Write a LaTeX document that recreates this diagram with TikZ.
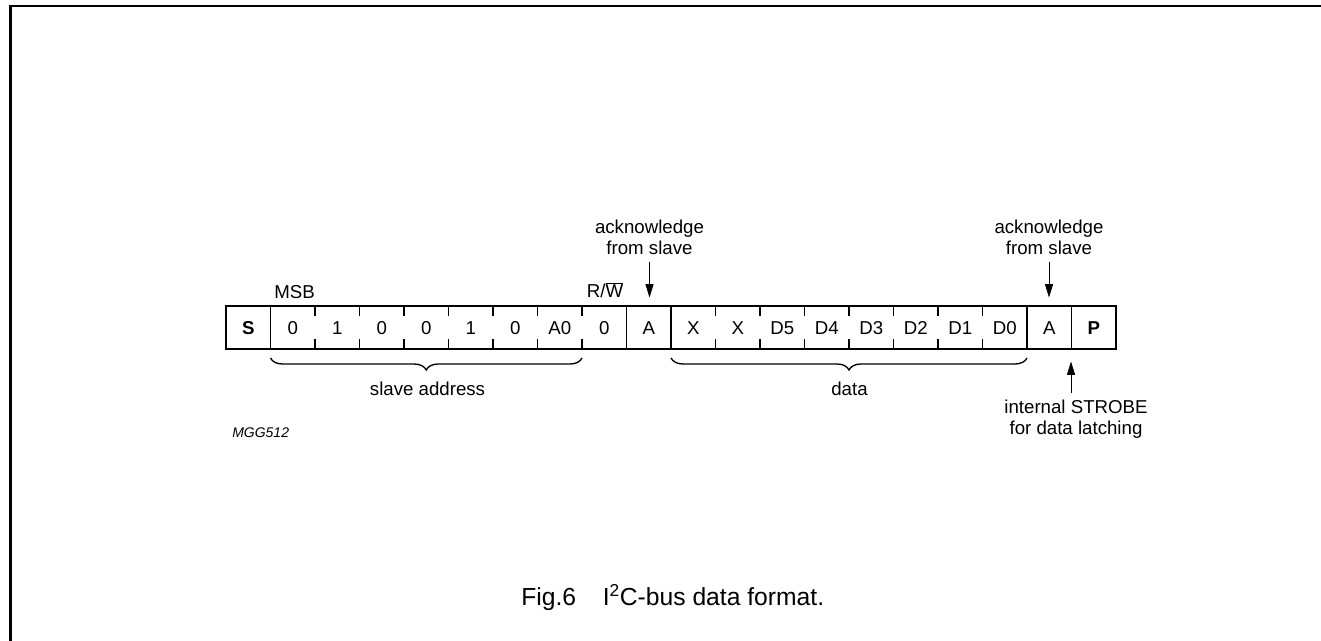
\documentclass[tikz,border=0pt]{standalone}
\usepackage{fontspec}
\setmainfont{Liberation Sans}
\usetikzlibrary{arrows.meta,decorations.pathreplacing}
\tikzset{
  cell/.style={minimum width=33.375pt,minimum height=32.25pt,inner sep=0pt,outer sep=0pt,text height=10pt,text depth=0pt,font=\fontsize{14pt}{16pt}\selectfont},
  lbl/.style={inner sep=0pt,align=center,font=\fontsize{14pt}{15.8pt}\selectfont},
  boxline/.style={line width=1pt},
  arr/.style={line width=0.45pt,-{Triangle[length=10pt,width=6pt]}},
  brc/.style={line width=1pt,decorate,decoration={brace,mirror,amplitude=9pt}},
  frame/.style={line width=1.6pt}
}
\begin{document}
\begin{tikzpicture}[x=0.75pt,y=-0.75pt]
\useasboundingbox (0,0) rectangle (1321,641);
% frame
\draw[frame] (10.5,641) -- (10.5,6.3) -- (1321,6.3);
% cells
\foreach \t [count=\i] in {{\bfseries S},0,1,0,0,1,0,A0,0,A,X,X,D5,D4,D3,D2,D1,D0,A,{\bfseries P}}
  \node[cell] (c\i) at ({226+44.5*(\i-0.5)},327.5) {\t};
\draw[boxline] (c1.north west) rectangle (c20.south east);
\foreach \i in {1,9,10,18,19}
  \draw[boxline] (c\i.north east) -- (c\i.south east);
\foreach \i in {2,...,8,11,12,...,17}
  \draw[boxline] (c\i.north east) -- ++(0,10) (c\i.south east) -- ++(0,-10);
% labels above
\node[lbl] (msb) at (294.5,292) {MSB};
\node[lbl] (rw) at (605,290) {R/$\overline{\hbox{W}}$};
\node[lbl] (ack1) at (649.5,237.5) {acknowledge\\from slave};
\node[lbl] (ack2) at (1049,237.5) {acknowledge\\from slave};
\coordinate (a1t) at (649.5,262);
\coordinate (a1h) at (649.5,297.5);
\coordinate (a2t) at (1049,262);
\coordinate (a2h) at (1049,297.5);
\draw[arr] (a1t) -- (a1h);
\draw[arr] (a2t) -- (a2h);
% strobe
\node[lbl] (strobe) at (1076,419) {internal STROBE\\for data latching};
\coordinate (st) at (1071,393);
\coordinate (sh) at (1071,361.5);
\draw[arr] (st) -- (sh);
% braces
\path (c2.south west) ++(0,9) coordinate (b1s);
\path (c9.south west) ++(0,9) coordinate (b1e);
\path (c11.south west) ++(0,9) coordinate (b2s);
\path (c18.south east) ++(0,9) coordinate (b2e);
\draw[brc] (b1s) -- (b1e);
\draw[brc] (b2s) -- (b2e);
\node[lbl] (sa) at (427.5,389) {slave address};
\node[lbl] (dt) at (849.5,389) {data};
% id and caption
\node[lbl,anchor=west,font=\fontsize{10.5pt}{12pt}\selectfont\itshape] (id) at (232,433) {MGG512};
\node[lbl,anchor=base west,font=\fontsize{18.5pt}{22pt}\selectfont] (cap) at (521,605) {Fig.6\hspace{20pt}I\textsuperscript{2}C-bus data format.};
\end{tikzpicture}
\end{document}
